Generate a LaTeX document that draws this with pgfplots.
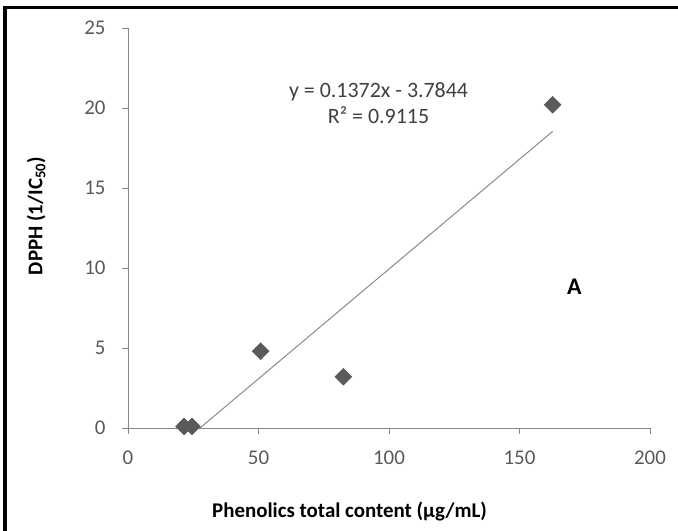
\documentclass[border=0pt]{standalone}
\usepackage{pgfplots}
\pgfplotsset{compat=1.18}
\usepackage{fontspec}
\setmainfont{Carlito}
\definecolor{tickgray}{HTML}{595959}
\definecolor{axgray}{HTML}{868686}
\definecolor{markgray}{HTML}{5A5A5A}
\definecolor{linegray}{HTML}{8A8A8A}
\definecolor{eqgray}{HTML}{404040}
\begin{document}
\begin{tikzpicture}[x=1bp,y=1bp]
\begin{axis}[
  at={(128bp,103bp)}, anchor=south west,
  width=522bp, height=400bp, scale only axis,
  xmin=0, xmax=200, ymin=0, ymax=25,
  axis x line*=bottom, axis y line*=left,
  axis line style={-, axgray, line width=0.9bp},
  tick style={axgray, line width=0.9bp},
  tick align=outside, major tick length=6bp,
  xtick={0,50,...,200}, ytick={0,5,...,25},
  /pgf/number format/assume math mode=true,
  tick label style={font=\fontsize{21}{24}\selectfont, text=tickgray},
  xticklabel style={yshift=-13bp},
  yticklabel style={xshift=-13bp},
  xlabel={\textbf{Phenolics total content (µg/mL)}},
  ylabel={\textbf{DPPH (1/IC\textsubscript{50})}},
  label style={font=\fontsize{21}{24}\selectfont},
  xlabel style={at={(axis description cs:0.4243,-0.21)}, anchor=center},
  ylabel style={at={(axis description cs:-0.176,0.53)}, anchor=center},
  clip=false,
]
\addplot[linegray, line width=1bp] coordinates {(27.58,0) (162.7,18.54)};
\addplot[only marks, mark=square*, mark size=6bp,
  mark options={rotate=45, fill=markgray, draw=markgray}]
  coordinates {(21.5,0.1) (24.5,0.1) (50.8,4.8) (82.5,3.2) (162.7,20.2)};
\node[font=\fontsize{22}{25}\selectfont, text=eqgray] at (axis cs:96,21) {y = 0.1372x - 3.7844};
\node[font=\fontsize{22}{25}\selectfont, text=eqgray] at (axis cs:96,19.56) {R² = 0.9115};
\node[font=\fontsize{24}{27}\selectfont\bfseries] at (axis cs:171,8.8) {A};
\end{axis}
\pgfresetboundingbox
\useasboundingbox (0,0) rectangle (678,531);
\draw[black, line width=3.6bp] (5.2,0) -- (5.2,523.6) -- (678,523.6);
\end{tikzpicture}
\end{document}
